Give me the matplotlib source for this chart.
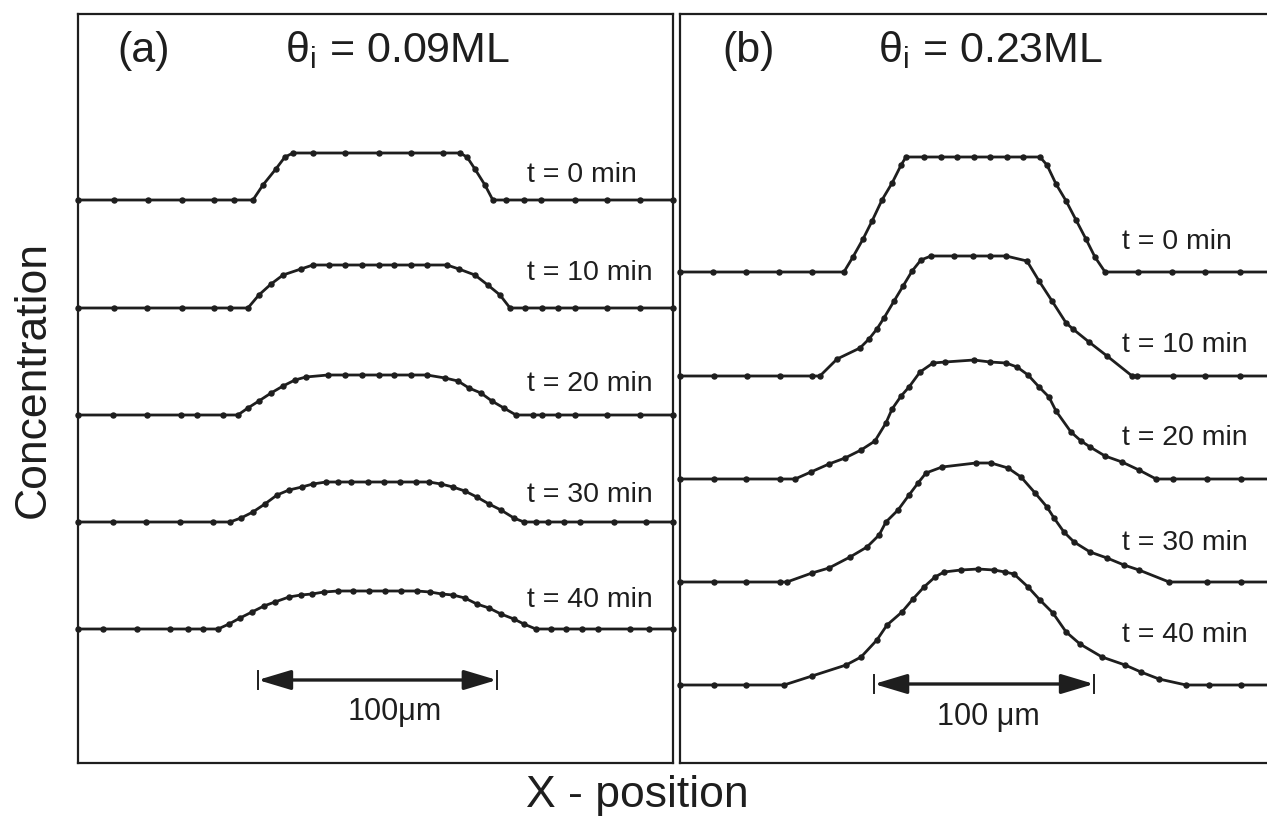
import matplotlib
matplotlib.use("Agg")
import matplotlib.pyplot as plt

plt.rcParams['font.family'] = ['Liberation Sans', 'DejaVu Sans']
plt.rcParams['mathtext.fontset'] = 'custom'
plt.rcParams['mathtext.rm'] = 'Liberation Sans'
plt.rcParams['mathtext.it'] = 'Liberation Sans:italic'

INK = '#1e1e1e'

# ---- data: concentration profiles (x in um from left frame, height in a.u.) ----
times = ["t = 0 min", "t = 10 min", "t = 20 min", "t = 30 min", "t = 40 min"]

# panel (a): theta_i = 0.09 ML
a_x0 = [0, 15.1, 29.3, 43.5, 56.9, 65.3, 73.2, 77.4, 82.8, 86.6, 90.0, 98.3, 111.7, 125.9,
        139.3, 152.7, 159.8, 162.8, 166.1, 170.3, 173.6, 179.1, 186.6, 193.7, 207.9, 221.3,
        235.1, 249.0]
a_c0 = [0, 0, 0, 0, 0, 0, 0, 15, 31, 43, 47, 47, 47, 47, 47, 47, 47, 43, 31, 15, 0,
        0, 0, 0, 0, 0, 0, 0]
a_x10 = [0, 15.1, 28.9, 43.5, 56.9, 63.6, 71.1, 75.7, 80.8, 85.8, 93.3, 98.3, 105.0, 111.7,
         118.8, 125.9, 132.2, 139.3, 146.0, 154.4, 159.4, 166.1, 171.5, 176.6, 180.8, 187.0,
         194.1, 200.8, 207.9, 221.3, 235.1, 249.0]
a_c10 = [0, 0, 0, 0, 0, 0, 0, 13, 24, 33, 39, 43, 43, 43, 43, 43, 43, 43, 43, 43, 39, 33,
         23, 13, 0, 0, 0, 0, 0, 0, 0, 0]
a_x20 = [0, 14.6, 28.9, 43.1, 49.8, 60.7, 66.9, 71.1, 75.7, 80.8, 85.8, 90.8, 95.4, 104.6,
         111.7, 118.8, 125.9, 132.2, 139.3, 146.0, 153.6, 159.0, 163.6, 168.6, 173.2, 178.2,
         183.3, 190.4, 194.1, 200.8, 207.9, 221.3, 235.1, 249.0]
a_c20 = [0, 0, 0, 0, 0, 0, 0, 7, 14, 22, 29, 35, 38, 40, 40, 40, 40, 40, 40, 40, 37, 34,
         27, 22, 14, 7, 0, 0, 0, 0, 0, 0, 0, 0]
a_x30 = [0, 14.6, 28.5, 42.7, 56.5, 63.6, 68.2, 73.2, 78.2, 83.3, 88.3, 93.7, 98.3, 103.8,
         108.8, 114.2, 121.3, 128.0, 134.7, 141.4, 146.9, 151.9, 156.9, 161.9, 166.9, 172.0,
         177.0, 182.4, 186.6, 191.6, 196.7, 203.3, 210.0, 224.3, 237.7, 249.0]
a_c30 = [0, 0, 0, 0, 0, 0, 4, 10, 18, 27, 32, 35, 38, 40, 40, 40, 40, 40, 40, 40, 40, 38,
         35, 31, 25, 18, 12, 4, 0, 0, 0, 0, 0, 0, 0, 0]
a_x40 = [0, 10.5, 24.7, 38.5, 46.0, 52.3, 58.6, 63.2, 67.8, 72.8, 77.8, 82.4, 88.3, 93.3,
         97.9, 102.9, 108.8, 115.1, 121.8, 128.5, 135.1, 141.8, 147.3, 152.3, 156.9, 161.9,
         166.9, 172.0, 177.0, 182.4, 186.6, 191.6, 197.9, 204.2, 210.9, 217.6, 231.0, 238.9,
         249.0]
a_c40 = [0, 0, 0, 0, 0, 0, 0, 5, 11, 17, 23, 27, 32, 34, 35, 37, 38, 38, 38, 38, 38, 38,
         37, 35, 34, 31, 25, 21, 15, 10, 5, 0, 0, 0, 0, 0, 0, 0, 0]

# panel (b): theta_i = 0.23 ML
b_x0 = [0, 15.0, 30.0, 45.0, 60.0, 74.5, 78.6, 83.2, 87.3, 91.8, 96.4, 100.5, 102.7, 110.9,
        118.6, 125.9, 133.6, 140.9, 148.6, 155.9, 163.6, 166.8, 170.9, 175.5, 180.0, 184.5,
        188.6, 193.2, 208.2, 223.6, 238.6, 254.5, 269.1]
b_c0 = [0, 0, 0, 0, 0, 0, 15, 33, 51, 72, 89, 107, 115, 115, 115, 115, 115, 115, 115, 115,
        115, 107, 88, 71, 52, 33, 15, 0, 0, 0, 0, 0, 0]
b_x10 = [0, 15.5, 30.5, 45.5, 60.0, 63.6, 71.4, 81.8, 85.9, 89.5, 92.7, 97.3, 101.4, 105.5,
         109.5, 114.1, 124.5, 133.2, 140.9, 148.2, 157.7, 163.2, 169.1, 175.5, 178.6, 185.9,
         194.1, 205.5, 207.7, 224.1, 238.6, 254.5, 269.1]
b_c10 = [0, 0, 0, 0, 0, 0, 17, 28, 37, 47, 58, 75, 90, 105, 116, 120, 120, 120, 120, 120,
         115, 95, 75, 53, 47, 34, 20, 0, 0, 0, 0, 0, 0]
b_x20 = [0, 15.5, 30.0, 45.5, 52.3, 59.5, 67.7, 75.0, 82.3, 88.6, 93.6, 96.4, 100.5, 104.1,
         109.1, 115.0, 120.5, 133.6, 140.9, 148.2, 153.2, 158.2, 163.2, 167.7, 170.9, 177.7,
         182.3, 186.4, 193.2, 200.9, 208.6, 216.4, 224.1, 239.5, 255.0, 269.1]
b_c20 = [0, 0, 0, 0, 0, 7, 15, 21, 29, 38, 56, 70, 83, 92, 107, 116, 117, 119, 117, 116,
         112, 104, 92, 82, 68, 47, 38, 32, 23, 17, 9, 0, 0, 0, 0, 0]
b_x30 = [0, 15.5, 30.0, 45.5, 48.6, 60.0, 67.7, 77.3, 85.0, 90.5, 93.6, 99.1, 104.1, 108.2,
         111.8, 119.1, 134.5, 141.4, 149.1, 155.0, 161.4, 166.8, 170.0, 174.5, 179.1, 186.4,
         194.1, 201.8, 208.6, 222.3, 239.5, 255.0, 269.1]
b_c30 = [0, 0, 0, 0, 0, 9, 14, 25, 35, 47, 60, 72, 87, 99, 109, 115, 119, 119, 114, 105,
         89, 75, 64, 50, 40, 30, 24, 17, 12, 0, 0, 0, 0]
b_x40 = [0, 15.5, 30.0, 47.3, 60.0, 75.5, 82.3, 89.5, 94.1, 100.9, 105.9, 110.9, 115.9,
         120.0, 127.7, 135.5, 142.7, 147.7, 151.8, 158.2, 163.6, 169.5, 175.5, 181.8, 191.8,
         202.3, 209.5, 217.7, 230.0, 240.5, 255.0, 269.1]
b_c40 = [0, 0, 0, 0, 9, 20, 28, 45, 60, 73, 86, 98, 108, 113, 115, 116, 115, 113, 111, 98,
         85, 72, 53, 41, 28, 20, 13, 6, 0, 0, 0, 0]

a_offsets = [563, 455, 348, 241, 134]
b_offsets = [491, 387, 284, 181, 78]
a_label_dy = [18, 28, 24, 20, 22]
b_label_dy = [23, 24, 34, 32, 43]

panels = [
    dict(xs=[a_x0, a_x10, a_x20, a_x30, a_x40], cs=[a_c0, a_c10, a_c20, a_c30, a_c40],
         offsets=a_offsets, label_dy=a_label_dy, label_x=187.9, xlim=(0, 249.0),
         tag="(a)", tag_x=16.3, theta=r"$\mathregular{\theta_i}$ = 0.09ML", theta_x=86.6,
         bar=(75.3, 175.3), bar_y=83, bar_text="100\u03bcm", bar_text_x=132.6, bar_text_y=43),
    dict(xs=[b_x0, b_x10, b_x20, b_x30, b_x40], cs=[b_c0, b_c10, b_c20, b_c30, b_c40],
         offsets=b_offsets, label_dy=b_label_dy, label_x=200.9, xlim=(0, 281.8),
         tag="(b)", tag_x=19.1, theta=r"$\mathregular{\theta_i}$ = 0.23ML", theta_x=90.0,
         bar=(88.2, 188.2), bar_y=79, bar_text="100 \u03bcm", bar_text_x=140.0, bar_text_y=38),
]

fig = plt.figure(figsize=(12.67, 8.22), dpi=100)
axes_rects = [
    [78 / 1267, 59 / 822, 595 / 1267, 749 / 822],
    [680 / 1267, 59 / 822, 620 / 1267, 749 / 822],
]

for rect, p in zip(axes_rects, panels):
    ax = fig.add_axes(rect)
    ax.set_xlim(*p['xlim'])
    ax.set_ylim(0, 749)
    ax.set_xticks([])
    ax.set_yticks([])
    for s in ax.spines.values():
        s.set_linewidth(1.6)
        s.set_color(INK)

    for x, c, off, dy, lab in zip(p['xs'], p['cs'], p['offsets'], p['label_dy'], times):
        ax.plot(x, [v + off for v in c], color=INK, lw=2.0, marker='o', ms=3.6,
                clip_on=False, zorder=3)
        ax.text(p['label_x'], off + dy, lab, fontsize=20.5, color=INK,
                ha='left', va='baseline')

    ax.text(p['tag_x'], 701, p['tag'], fontsize=31, color=INK, ha='left', va='baseline')
    ax.text(p['theta_x'], 701, p['theta'], fontsize=31, color=INK, ha='left', va='baseline')

    # 100 um scale bar
    x0, x1 = p['bar']
    y = p['bar_y']
    ax.annotate('', xy=(x1, y), xytext=(x0, y),
                arrowprops=dict(arrowstyle='<|-|>,head_length=2.0,head_width=0.6',
                                mutation_scale=10, lw=2.4, color=INK,
                                shrinkA=0, shrinkB=0))
    ax.plot([x0, x0], [y - 9, y + 9], color=INK, lw=1.4)
    ax.plot([x1, x1], [y - 9, y + 9], color=INK, lw=1.4)
    ax.text(p['bar_text_x'], p['bar_text_y'], p['bar_text'], fontsize=22, color=INK,
            ha='center', va='baseline')

fig.text(33 / 1267, 1 - 380 / 822, "Concentration", fontsize=32, color=INK,
         rotation=90, ha='center', va='center')
fig.text(637 / 1267, 1 - 795 / 822, "X - position", fontsize=32, color=INK,
         ha='center', va='center')

fig.savefig("out.png", dpi=100, facecolor='white')
